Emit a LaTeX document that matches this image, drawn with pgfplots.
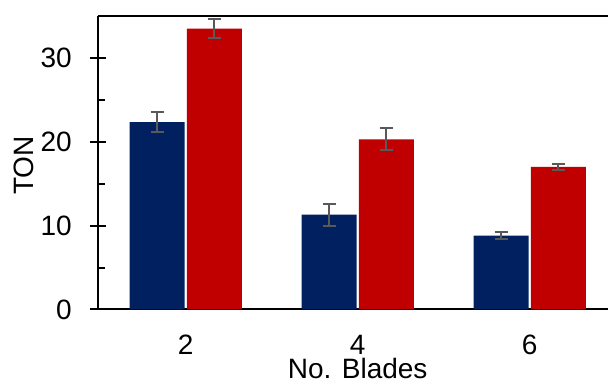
\documentclass[border=0pt]{standalone}
\usepackage{fontspec}
\setmainfont{Liberation Sans}
\usepackage{pgfplots}
\pgfplotsset{compat=1.18}
\usetikzlibrary{calc}
\definecolor{navy}{RGB}{0,32,96}
\definecolor{darkred}{RGB}{192,0,0}
\definecolor{errgray}{RGB}{89,89,89}
\begin{document}
\begin{tikzpicture}
\begin{axis}[
  name=ax,
  scale only axis,
  width=510pt, height=293.5pt,
  xmin=-0.51, xmax=2.455,
  ymin=0, ymax=35,
  axis lines=left,
  axis line style={-, line width=2pt, black},
  xtick={0,1,2}, xticklabels={2,4,6},
  ytick={0,10,20,30},
  minor y tick num=1,
  tick align=center,
  major tick length=16pt,
  minor tick length=7pt,
  every tick/.style={black, line width=2pt},
  minor y tick style={xshift=3.5pt},
  major x tick style={draw=none},
  /pgf/number format/assume math mode=true,
  tick label style={font=\fontsize{28}{34}\selectfont},
  yticklabel style={anchor=east, inner sep=0pt, xshift=-18pt},
  xticklabel style={anchor=base, inner sep=0pt, yshift=-36.8pt},
  xlabel={No. Blades},
  ylabel={TON},
  every axis x label/.style={at={(axis cs:1,0)}, anchor=base, yshift=-69.5pt, font=\fontsize{28}{34}\selectfont},
  every axis y label/.style={at={(axis description cs:-0.1269,0.49)}, rotate=90, anchor=base, font=\fontsize{28}{34}\selectfont},
  clip=false,
]
\addplot[ybar, bar width=0.32, bar shift=0pt, fill=navy, draw=none,
  error bars/.cd, y dir=both, y explicit,
  error bar style={errgray, line width=2pt},
  error mark options={errgray, line width=2pt, mark size=6.5pt, rotate=90}]
  coordinates {(-0.166,22.35) +- (0,1.15) (0.834,11.3) +- (0,1.3) (1.834,8.8) +- (0,0.4)};
\addplot[ybar, bar width=0.32, bar shift=0pt, fill=darkred, draw=none,
  error bars/.cd, y dir=both, y explicit,
  error bar style={errgray, line width=2pt},
  error mark options={errgray, line width=2pt, mark size=6.5pt, rotate=90}]
  coordinates {(0.166,33.5) +- (0,1.15) (1.166,20.3) +- (0,1.3) (2.166,17.0) +- (0,0.36)};
\draw[black, line width=2pt] (rel axis cs:0,1) -- (rel axis cs:1,1);
\end{axis}
\pgfresetboundingbox
\path[use as bounding box] ($(ax.south west)+(-98pt,-71.5pt)$) rectangle ($(ax.north east)+(0pt,16pt)$);
\end{tikzpicture}
\end{document}
